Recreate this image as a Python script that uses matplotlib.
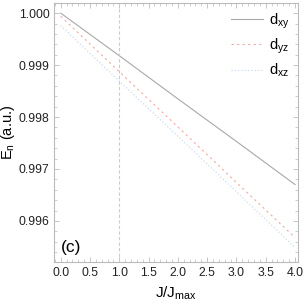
import numpy as np
import matplotlib
matplotlib.use('Agg')
import matplotlib.pyplot as plt
from matplotlib.ticker import MultipleLocator

plt.rcParams['font.family'] = ['Liberation Sans', 'DejaVu Sans']
plt.rcParams['mathtext.fontset'] = 'custom'
plt.rcParams['mathtext.rm'] = 'Liberation Sans'
plt.rcParams['mathtext.it'] = 'Liberation Sans'

# данные
j_ratio = [0.0, 1.0, 2.0, 3.0, 4.0]
e_xy = [1.00000, 0.99918, 0.99835, 0.99753, 0.99670]
e_yz = [0.99994, 0.99887, 0.99781, 0.99674, 0.99568]
e_xz = [0.99976, 0.99869, 0.99763, 0.99656, 0.99549]
labels = [r'd$_{xy}$', r'd$_{yz}$', r'd$_{xz}$']

fig = plt.figure(figsize=(3.05, 3.05), dpi=100)
ax = fig.add_axes([0.178, 0.141, 0.799, 0.850])

ax.plot(j_ratio, e_xy, color='#a8a8a8', lw=0.8, label=labels[0])
ax.plot(j_ratio, e_yz, color='#f4a8a8', lw=0.8, ls=(0, (2, 3)), label=labels[1])
ax.plot(j_ratio, e_xz, color='#c0d4f0', lw=0.8, ls=(0, (1, 2)), label=labels[2])
ax.axvline(1.0, color='#cccccc', lw=0.8, ls=(0, (3, 2)))

ax.set_xlim(-0.11, 4.05)
ax.set_ylim(0.99521, 1.00020)
ax.xaxis.set_major_locator(MultipleLocator(0.5))
ax.xaxis.set_minor_locator(MultipleLocator(0.1))
ax.yaxis.set_major_locator(MultipleLocator(0.001))
ax.yaxis.set_minor_locator(MultipleLocator(0.0002))
ax.yaxis.set_major_formatter(plt.FormatStrFormatter('%.3f'))

ax.tick_params(which='both', direction='in', top=True, right=True,
               color='#bbbbbb', labelsize=8.8, labelcolor='#222222', pad=3.5)
ax.tick_params(which='major', length=3.5, width=0.6)
ax.tick_params(which='minor', length=2, width=0.5)
for s in ax.spines.values():
    s.set_color('#bbbbbb')
    s.set_linewidth(0.8)

ax.set_xlabel(r'J/J$_{\mathrm{max}}$', fontsize=11, labelpad=4)
ax.set_ylabel(r'E$_{\mathrm{n}}$ (a.u.)', fontsize=10.5, labelpad=1)
ax.text(0.025, 0.04, '(c)', transform=ax.transAxes, fontsize=12.5)

ax.legend(loc='upper right', frameon=False, fontsize=10.5, handlelength=2.2,
          borderaxespad=0.2, labelspacing=0.4, handletextpad=0.4)

fig.savefig('out.png', dpi=100)
